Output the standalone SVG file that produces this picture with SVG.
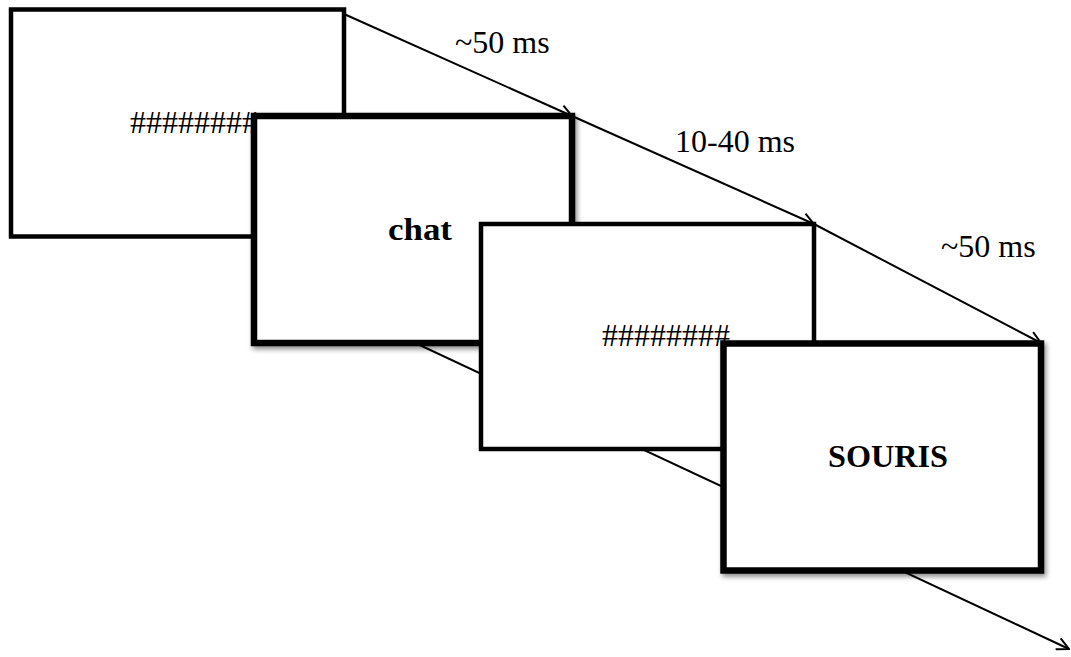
<svg xmlns="http://www.w3.org/2000/svg" width="1071" height="657" viewBox="0 0 1071 657">
<defs>
<style>
.frame{fill:#fff;stroke:#000;stroke-linejoin:miter}
.thin{stroke-width:4.5}
.thick{stroke-width:6.5}
.lbl{font-family:"Liberation Serif",serif;font-size:32px;fill:#000}
.b{font-weight:bold}
.conn{stroke:#000;stroke-width:2;fill:none}
</style>
<marker id="arr" viewBox="0 0 14 14" refX="13" refY="7" markerWidth="14" markerHeight="14" markerUnits="userSpaceOnUse" orient="auto">
<path d="M1,1 L13,7 L1,13" fill="none" stroke="#000" stroke-width="2"/>
</marker>
<filter id="sh" x="-5%" y="-5%" width="115%" height="120%">
<feDropShadow dx="2" dy="3" stdDeviation="2.5" flood-color="#000" flood-opacity="0.45"/>
</filter>
</defs>
<g id="connectors">
<line class="conn" x1="330" y1="303" x2="1069" y2="649" marker-end="url(#arr)"/>
<line class="conn" x1="344" y1="14" x2="572" y2="116" marker-end="url(#arr)"/>
<line class="conn" x1="572" y1="116" x2="814" y2="224" marker-end="url(#arr)"/>
<line class="conn" x1="814" y1="224" x2="1041" y2="343" marker-end="url(#arr)"/>
</g>
<g id="labels">
<text class="lbl" x="455" y="53">~50 ms</text>
<text class="lbl" x="675" y="152">10-40 ms</text>
<text class="lbl" x="941" y="257">~50 ms</text>
</g>
<g id="screen1">
<rect class="frame thin" x="11" y="9.5" width="333" height="227"/>
<text class="lbl" x="130" y="133">########</text>
</g>
<g id="screen2">
<rect class="frame thick" x="254" y="116" width="318" height="227" filter="url(#sh)"/>
<text class="lbl b" x="420" y="240" text-anchor="middle" textLength="64" lengthAdjust="spacingAndGlyphs">chat</text>
</g>
<g id="screen3">
<rect class="frame thin" x="481" y="224" width="333" height="225"/>
<text class="lbl" x="602" y="346">########</text>
</g>
<g id="screen4">
<rect class="frame thick" x="723.5" y="343.5" width="317.5" height="227" filter="url(#sh)"/>
<text class="lbl b" x="888" y="467" text-anchor="middle" textLength="120" lengthAdjust="spacingAndGlyphs">SOURIS</text>
</g>
</svg>
